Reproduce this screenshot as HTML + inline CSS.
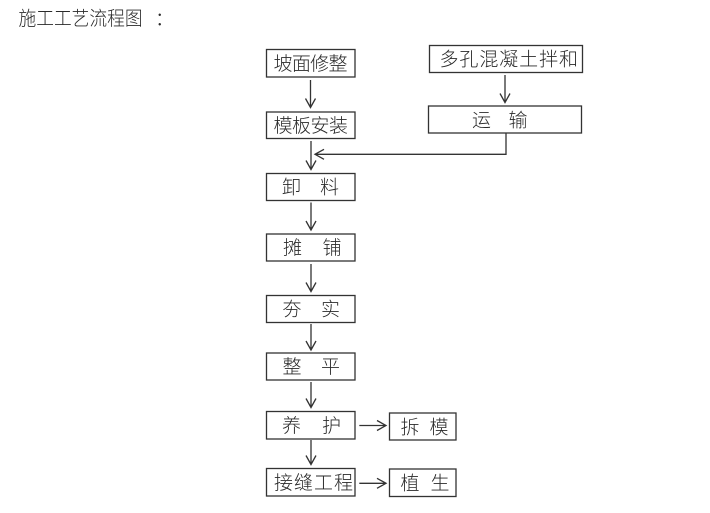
<!DOCTYPE html>
<html>
<head>
<meta charset="utf-8">
<style>
html,body{margin:0;padding:0;background:#fff;}
body{width:710px;height:513px;overflow:hidden;}
svg{display:block;}
text{font-family:"Liberation Sans","Noto Sans CJK SC",sans-serif;fill:#2a2a2a;font-weight:300;}
</style>
</head>
<body>
<svg width="710" height="513" viewBox="0 0 710 513" xmlns="http://www.w3.org/2000/svg">
  <!-- title -->
  <g transform="translate(18.5,25) scale(0.91,1)">
    <text x="0" y="0" font-size="19.5">施工工艺流程图</text>
  </g>
  <text x="155" y="25" font-size="19">：</text>

  <g fill="none" stroke="#333" stroke-width="1.3">
    <!-- main column boxes -->
    <rect x="266.5" y="49.5" width="88.5" height="27.5"/>
    <rect x="266.5" y="112" width="88.5" height="26.5"/>
    <rect x="266.5" y="173.5" width="88.5" height="27"/>
    <rect x="266.5" y="234" width="88.5" height="27"/>
    <rect x="266.5" y="295.5" width="88.5" height="27"/>
    <rect x="266.5" y="353" width="88.5" height="27"/>
    <rect x="266.5" y="411.5" width="88.5" height="27.5"/>
    <rect x="266.5" y="468.5" width="88.5" height="27.5"/>
    <!-- right boxes -->
    <rect x="429.5" y="45.5" width="153" height="27"/>
    <rect x="428.5" y="106" width="153" height="27"/>
    <rect x="389.5" y="413" width="66.5" height="27"/>
    <rect x="389.5" y="469" width="66.5" height="27.5"/>

    <!-- vertical arrows main column -->
    <path d="M310.5 80 V107.5 M305.5 98.5 L310.5 107.5 L315.5 98.5"/>
    <path d="M311 141 V169.5 M306 160.5 L311 169.5 L316 160.5"/>
    <path d="M311 202.5 V230 M306 221 L311 230 L316 221"/>
    <path d="M311 264 V291.5 M306 282.5 L311 291.5 L316 282.5"/>
    <path d="M311 324 V350 M306 341 L311 350 L316 341"/>
    <path d="M311 382 V407.5 M306 398.5 L311 407.5 L316 398.5"/>
    <path d="M311 440 V464.5 M306 455.5 L311 464.5 L316 455.5"/>

    <!-- right column arrow -->
    <path d="M505 75 V102.5 M500 93.5 L505 102.5 L510 93.5"/>
    <!-- feed line from 运输 -->
    <path d="M506 133 V154.3 H315 M324 149.3 L315 154.3 L324 159.3"/>

    <!-- horizontal arrows -->
    <path d="M359.3 425.5 H386 M377 420.5 L386 425.5 L377 430.5"/>
    <path d="M359.3 483.3 H386 M377 478.3 L386 483.3 L377 488.3"/>
  </g>

  <g font-size="19">
    <text x="273.5" y="70" textLength="74" lengthAdjust="spacing">坡面修整</text>
    <text x="273.5" y="132" textLength="74.5" lengthAdjust="spacing">模板安装</text>
    <text x="282" y="193.5">卸</text><text x="320" y="193.5">料</text>
    <text x="283" y="254">摊</text><text x="322.5" y="254">铺</text>
    <text x="282.5" y="315.5">夯</text><text x="321" y="315.5">实</text>
    <text x="282.5" y="373">整</text><text x="321" y="373">平</text>
    <text x="282" y="432">养</text><text x="322" y="432">护</text>
    <text x="274" y="489" textLength="79" lengthAdjust="spacing">接缝工程</text>

    <text x="439.5" y="65.5" textLength="138.5" lengthAdjust="spacing">多孔混凝土拌和</text>
    <text x="472" y="126.5">运</text><text x="508.5" y="126.5">输</text>
    <text x="400.5" y="433.5">拆</text><text x="429.5" y="433.5">模</text>
    <text x="400.5" y="489.5">植</text><text x="430.5" y="489.5">生</text>
  </g>
</svg>
</body>
</html>
